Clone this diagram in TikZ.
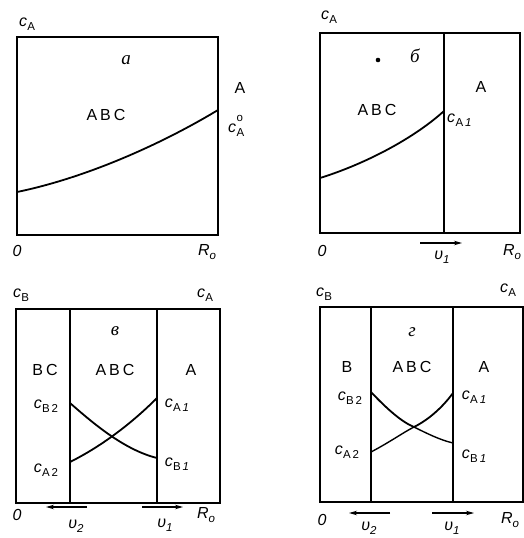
\documentclass[tikz,border=0pt]{standalone}
\usepackage{fontspec}
\setmainfont{Liberation Sans}
\newfontfamily\cyr{Liberation Serif}
\usetikzlibrary{arrows.meta}
\newcommand{\sbs}[1]{\raisebox{-0.5ex}{\fontsize{11.5}{12}\selectfont #1}}
\newcommand{\cx}[1]{\textit{c}\kern0.3pt\sbs{#1}}
\newcommand{\pl}[1]{{\fontsize{19}{19}\selectfont\cyr\itshape #1}}
\newcommand{\lsp}{\kern3pt}
\begin{document}
\begin{tikzpicture}[x=1pt,y=-1pt,
  font=\fontsize{16}{17}\selectfont,
  every node/.style={inner sep=0pt},
  box/.style={line width=1.3pt},
  crv/.style={line width=1.8pt},
  thin crv/.style={line width=1.4pt},
  vel/.style={-{Stealth[length=8pt,width=4.5pt]}, line width=1.1pt}]
\useasboundingbox (0,0) rectangle (524,538);
% ---------- panel a ----------
\draw[box] (17,37) rectangle (218,235);
\draw[crv] (17,192) .. controls (85,178) and (160,145) .. (218,110);
\node (a-ca) at (27,24) {\cx{A}};
\node (a-let) at (126,60) {\pl{а}};
\node (a-A) at (240,88) {A};
\node (a-abc) at (106,115) {A\lsp B\lsp C};
\node[anchor=west] (a-c0) at (228,126) {\textit{c}\kern0.3pt\makebox[0pt][l]{\raisebox{1.3ex}{\fontsize{11.5}{12}\selectfont o}}\sbs{A}};
\node (a-O) at (17,251) {\textit{0}};
\node (a-R) at (207,252) {\textit{R}\sbs{\textit{o}}};
% ---------- panel b ----------
\draw[box] (320,33) rectangle (520,233);
\draw[box] (444,33) -- (444,233);
\draw[crv] (320,178) .. controls (362,165) and (412,140) .. (444,111);
\node (b-ca) at (329,17) {\cx{A}};
\fill (378,60) circle (2.3pt);
\node (b-let) at (415,56) {\pl{б}};
\node (b-A) at (481,87) {A};
\node (b-abc) at (377,110) {A\lsp B\lsp C};
\node[anchor=west] (b-ca1) at (447,120) {\cx{A\,\textit{1}}};
\node (b-O) at (322,251) {\textit{0}};
\coordinate (b-v1s) at (420,243);
\coordinate (b-v1e) at (462,243);
\draw[vel] (b-v1s) -- (b-v1e);
\node (b-v1) at (442,257) {\textit{υ}\sbs{\textit{1}}};
\node (b-R) at (512,252) {\textit{R}\sbs{\textit{o}}};
% ---------- panel v ----------
\draw[box] (16,309) rectangle (220,503);
\draw[box] (70,309) -- (70,503);
\draw[box] (157,309) -- (157,503);
\draw[crv] (70,403) .. controls (95,425) and (125,450) .. (157,458);
\draw[crv] (70,462) .. controls (100,447) and (130,425) .. (157,398);
\node (v-cb) at (21,295) {\cx{B}};
\node (v-ca) at (205,295) {\cx{A}};
\node (v-let) at (115,331) {\pl{в}};
\node (v-bc) at (45,370) {B\lsp C};
\node (v-abc) at (115,370) {A\lsp B\lsp C};
\node (v-A) at (191,370) {A};
\node (v-cb2) at (46,406) {\cx{B\,2}};
\node (v-ca2) at (46,470) {\cx{A\,2}};
\node (v-ca1) at (177,405) {\cx{A\,\textit{1}}};
\node (v-cb1) at (177,464) {\cx{B\,\textit{1}}};
\node (v-O) at (17,515) {\textit{0}};
\coordinate (v-v2s) at (87,507);
\coordinate (v-v2e) at (46,507);
\draw[vel] (v-v2s) -- (v-v2e);
\node (v-v2) at (76,526) {\textit{υ}\sbs{\textit{2}}};
\coordinate (v-v1s) at (142,507);
\coordinate (v-v1e) at (183,507);
\draw[vel] (v-v1s) -- (v-v1e);
\node (v-v1) at (165,525) {\textit{υ}\sbs{\textit{1}}};
\node (v-R) at (206,515) {\textit{R}\sbs{\textit{o}}};
% ---------- panel g ----------
\draw[box] (320,307) rectangle (523,502);
\draw[box] (371,307) -- (371,502);
\draw[box] (453,307) -- (453,502);
\draw[crv] (371,392) .. controls (388,410) and (402,422) .. (414,427)
           .. controls (428,420) and (442,408) .. (453,393);
\draw[thin crv] (371,452) .. controls (390,442) and (404,432) .. (414,427)
           .. controls (426,433) and (440,440) .. (453,443);
\node (g-cb) at (324,294) {\cx{B}};
\node (g-ca) at (508,290) {\cx{A}};
\node (g-let) at (412,332) {\pl{г}};
\node (g-B) at (347,367) {B};
\node (g-abc) at (412,367) {A\lsp B\lsp C};
\node (g-A) at (484,367) {A};
\node (g-cb2) at (350,398) {\cx{B\,2}};
\node (g-ca2) at (347,452) {\cx{A\,2}};
\node (g-ca1) at (474,397) {\cx{A\,\textit{1}}};
\node (g-cb1) at (474,456) {\cx{B\,\textit{1}}};
\node (g-O) at (322,520) {\textit{0}};
\coordinate (g-v2s) at (390,513);
\coordinate (g-v2e) at (349,513);
\draw[vel] (g-v2s) -- (g-v2e);
\node (g-v2) at (369,528) {\textit{υ}\sbs{\textit{2}}};
\coordinate (g-v1s) at (432,513);
\coordinate (g-v1e) at (474,513);
\draw[vel] (g-v1s) -- (g-v1e);
\node (g-v1) at (452,528) {\textit{υ}\sbs{\textit{1}}};
\node (g-R) at (510,520) {\textit{R}\sbs{\textit{o}}};
\end{tikzpicture}
\end{document}
